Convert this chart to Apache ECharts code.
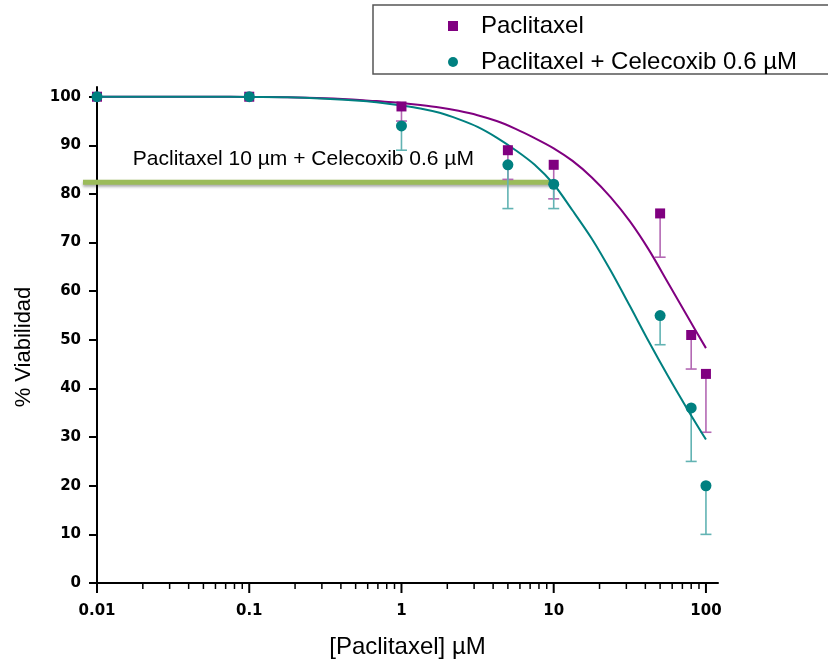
<!DOCTYPE html>
<html><head><meta charset="utf-8">
<script src="https://cdn.jsdelivr.net/npm/echarts@6/dist/echarts.min.js"></script>
<style>html,body{margin:0;padding:0;background:#fff;overflow:hidden}#c{width:828px;height:664px}</style>
</head><body><div id="c"></div>
<script>
// ---- data ----
const concentrations = [0.01, 0.1, 1, 5, 10, 50, 80, 100];
const paclitaxel      = [100, 100, 98, 89, 86, 76, 51, 43];
const paclitaxelLower = [null, null, 95, 83, 79, 67, 44, 31];
const combo           = [100, 100, 94, 86, 82, 55, 36, 20];
const comboLower      = [null, null, 89, 77, 77, 49, 25, 10];

// fitted curves
const fitX          = [0.01, 0.0178, 0.0316, 0.0562, 0.1, 0.178, 0.316, 0.562, 0.75, 1, 1.33, 1.78, 2.37, 3.16, 4.22, 5.62, 7.5, 10, 13.3, 17.8, 23.7, 31.6, 42.2, 56.2, 75, 100];
const paclitaxelFit = [100, 100, 100, 100, 99.95, 99.9, 99.7, 99.3, 99.0, 98.7, 98.3, 97.8, 97.1, 96.2, 95.0, 93.4, 91.5, 89.4, 86.8, 83.4, 79.3, 74.4, 68.5, 61.8, 55.0, 48.3];
const comboFit      = [100, 100, 100, 100, 99.95, 99.9, 99.6, 99.1, 98.7, 98.2, 97.6, 96.7, 95.4, 93.8, 91.6, 89.0, 86.0, 82.0, 76.6, 70.8, 64.2, 57.0, 49.6, 42.6, 35.9, 29.5];

const xLabelValues = [0.01, 0.1, 1, 10, 100];
const xTickLabels  = ['0.01', '0.1', '1', '10', '100'];
const xMinorTicks  = [0.02,0.03,0.04,0.05,0.06,0.07,0.08,0.09, 0.2,0.3,0.4,0.5,0.6,0.7,0.8,0.9, 2,3,4,5,6,7,8,9, 20,30,40,50,60,70,80,90];
const yTickValues  = [0,10,20,30,40,50,60,70,80,90,100];

const seriesNames = ['Paclitaxel', 'Paclitaxel + Celecoxib 0.6 \u00b5M'];
const annotationText = 'Paclitaxel 10 \u00b5m + Celecoxib 0.6 \u00b5M';
const annotationLevel = 82.4;      // % viability of the highlighted level
const annotationLineEnd = 10;      // µM
const annotationTextAnchor = [0.0172, 87.2];

// ---- colours / fonts ----
const PURPLE = '#800080', PURPLE_LIGHT = '#b368b3';
const TEAL = '#008080', TEAL_LIGHT = '#62b3b3';
const SANS = '"Liberation Sans", Arial, sans-serif';
const TICKFONT = '"DejaVu Sans", sans-serif';

const chart = echarts.init(document.getElementById('c'), null, {renderer: 'canvas'});

function errorBarSeries(values, lower, color) {
  const data = [];
  concentrations.forEach((x, i) => { if (lower[i] != null) data.push([x, values[i], lower[i]]); });
  return {
    type: 'custom', z: 3, silent: true,
    encode: {x: 0, y: [1, 2]},
    data: data,
    renderItem: function (params, api) {
      const top = api.coord([api.value(0), api.value(1)]);
      const bot = api.coord([api.value(0), api.value(2)]);
      const st = {stroke: color, lineWidth: 1.6};
      return {type: 'group', children: [
        {type: 'line', shape: {x1: top[0], y1: top[1], x2: bot[0], y2: bot[1]}, style: st},
        {type: 'line', shape: {x1: bot[0] - 5.5, y1: bot[1], x2: bot[0] + 5.5, y2: bot[1]}, style: st}
      ]};
    }
  };
}
function tickSeries(values, len, width) {
  return {
    type: 'custom', z: 5, silent: true, clip: false,
    encode: {x: 0, y: 1},
    data: values.map(v => [v, 0]),
    renderItem: function (params, api) {
      const p = api.coord([api.value(0), 0]);
      return {type: 'line', shape: {x1: p[0], y1: p[1], x2: p[0], y2: p[1] + len},
              style: {stroke: '#000', lineWidth: width}};
    }
  };
}

const option = {
  animation: false,
  backgroundColor: '#fff',
  grid: {left: 97, top: 87, width: 621, height: 502, containLabel: false},
  legend: {
    data: [{name: seriesNames[0], icon: 'rect'}, {name: seriesNames[1], icon: 'circle'}],
    orient: 'vertical', left: 373, top: 5,
    itemWidth: 10, itemHeight: 10, itemGap: 12,
    padding: [9, 60, 0, 75],
    borderColor: '#555', borderWidth: 1.5, borderRadius: 0,
    selectedMode: false,
    textStyle: {fontFamily: SANS, fontSize: 24, color: '#000', padding: [0, 0, 0, 18]}
  },
  xAxis: {
    type: 'log', logBase: 10, min: 0.01, max: 120,
    name: '[Paclitaxel] \u00b5M', nameLocation: 'middle', nameGap: 52,
    nameTextStyle: {fontFamily: SANS, fontSize: 24, color: '#000'},
    axisLine: {lineStyle: {color: '#000', width: 2}},
    axisTick: {show: false},
    splitLine: {show: false},
    axisLabel: {
      margin: 21, color: '#000', fontFamily: TICKFONT, fontWeight: 'bold', fontSize: 15,
      formatter: function (v) {
        for (let i = 0; i < xLabelValues.length; i++) {
          if (Math.abs(Math.log10(v) - Math.log10(xLabelValues[i])) < 1e-6) return xTickLabels[i];
        }
        return '';
      }
    }
  },
  yAxis: {
    type: 'value', min: 0, max: 102, interval: 10,
    name: '% Viabilidad', nameLocation: 'middle', nameGap: 62, nameRotate: 90,
    nameTextStyle: {fontFamily: SANS, fontSize: 22, color: '#000', padding: [0, 24, 0, 0]},
    axisLine: {show: true, lineStyle: {color: '#000', width: 2}},
    axisTick: {show: true, length: 8, lineStyle: {color: '#000', width: 2}, customValues: yTickValues},
    splitLine: {show: false},
    axisLabel: {
      margin: 16, color: '#000', fontFamily: TICKFONT, fontWeight: 'bold', fontSize: 15,
      customValues: yTickValues,
      formatter: v => (yTickValues.indexOf(v) >= 0 ? String(v) : '')
    }
  },
  series: [
    errorBarSeries(paclitaxel, paclitaxelLower, PURPLE_LIGHT),
    errorBarSeries(combo, comboLower, TEAL_LIGHT),
    {
      name: 'fit1', type: 'line', z: 4, silent: true, showSymbol: false, smooth: 0.3,
      data: fitX.map((x, i) => [x, paclitaxelFit[i]]),
      lineStyle: {color: PURPLE, width: 2}
    },
    {
      name: 'fit2', type: 'line', z: 4, silent: true, showSymbol: false, smooth: 0.3,
      data: fitX.map((x, i) => [x, comboFit[i]]),
      lineStyle: {color: TEAL, width: 2}
    },
    {
      name: seriesNames[0], type: 'scatter', z: 6, symbol: 'rect', symbolSize: 10,
      itemStyle: {color: PURPLE, opacity: 1},
      data: concentrations.map((x, i) => [x, paclitaxel[i]])
    },
    {
      name: seriesNames[1], type: 'scatter', z: 7, symbol: 'circle', symbolSize: 11,
      itemStyle: {color: TEAL, opacity: 1},
      data: concentrations.map((x, i) => [x, combo[i]])
    },
    tickSeries(xLabelValues, 10, 2),
    tickSeries(xMinorTicks, 6, 1.5)
  ]
};
chart.setOption(option);

const pStart = chart.convertToPixel({xAxisIndex: 0, yAxisIndex: 0}, [concentrations[0], annotationLevel]);
const pEnd = chart.convertToPixel({xAxisIndex: 0, yAxisIndex: 0}, [annotationLineEnd, annotationLevel]);
const pText = chart.convertToPixel({xAxisIndex: 0, yAxisIndex: 0}, annotationTextAnchor);
chart.setOption({
  graphic: [
    {type: 'line', z: 1, silent: true,
     shape: {x1: pStart[0] - 14, y1: pStart[1], x2: pEnd[0], y2: pEnd[1]},
     style: {stroke: '#9bbb59', lineWidth: 5, shadowBlur: 3, shadowOffsetY: 2, shadowColor: 'rgba(0,0,0,0.35)'}},
    {type: 'text', z: 1, silent: true, x: pText[0], y: pText[1],
     style: {text: annotationText, fontFamily: SANS, fontSize: 21, fill: '#000', verticalAlign: 'middle', align: 'left'}}
  ]
});
</script></body></html>
